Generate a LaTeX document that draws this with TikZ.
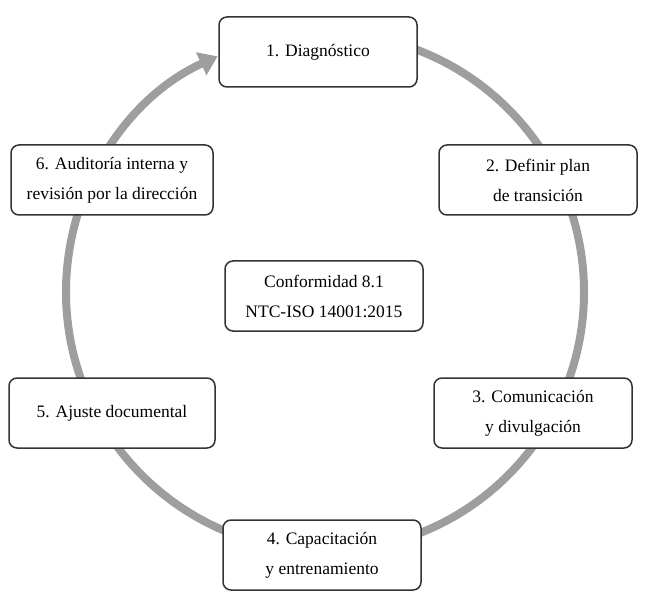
\documentclass[tikz,border=0pt]{standalone}
\usepackage{fontspec}
\setmainfont{Liberation Serif}
\usetikzlibrary{arrows.meta}
\begin{document}
\begin{tikzpicture}[x=1pt,y=-1pt,
  box/.style={draw=black!80,line width=1.5pt,rounded corners=8pt,fill=white,
    minimum width=198pt,minimum height=70pt,align=center,
    font=\fontsize{17.5}{30}\selectfont,inner sep=2pt},
  ring/.style={draw=black!38,line width=8pt}]
\useasboundingbox (0,0) rectangle (650,601);
\coordinate (c) at (325,292);
\draw[ring,-{Triangle[length=18pt,width=24pt]}] (325,33) arc[start angle=-90,end angle=245.5,radius=259];
\node[box] (n1) at (318,52) {1. Diagnóstico};
\node[box] (n2) at (538,180) {2. Definir plan\\de transición};
\node[box] (n3) at (533,413) {3. Comunicación\\y divulgación};
\node[box] (n4) at (322,555) {4. Capacitación\\y entrenamiento};
\node[box,minimum width=206pt] (n5) at (112,413) {5. Ajuste documental};
\node[box,minimum width=202pt] (n6) at (112,180) {6. Auditoría interna y\\revisión por la dirección};
\node[box] (n0) at (324,296) {Conformidad 8.1\\NTC-ISO 14001:2015};
\end{tikzpicture}
\end{document}
